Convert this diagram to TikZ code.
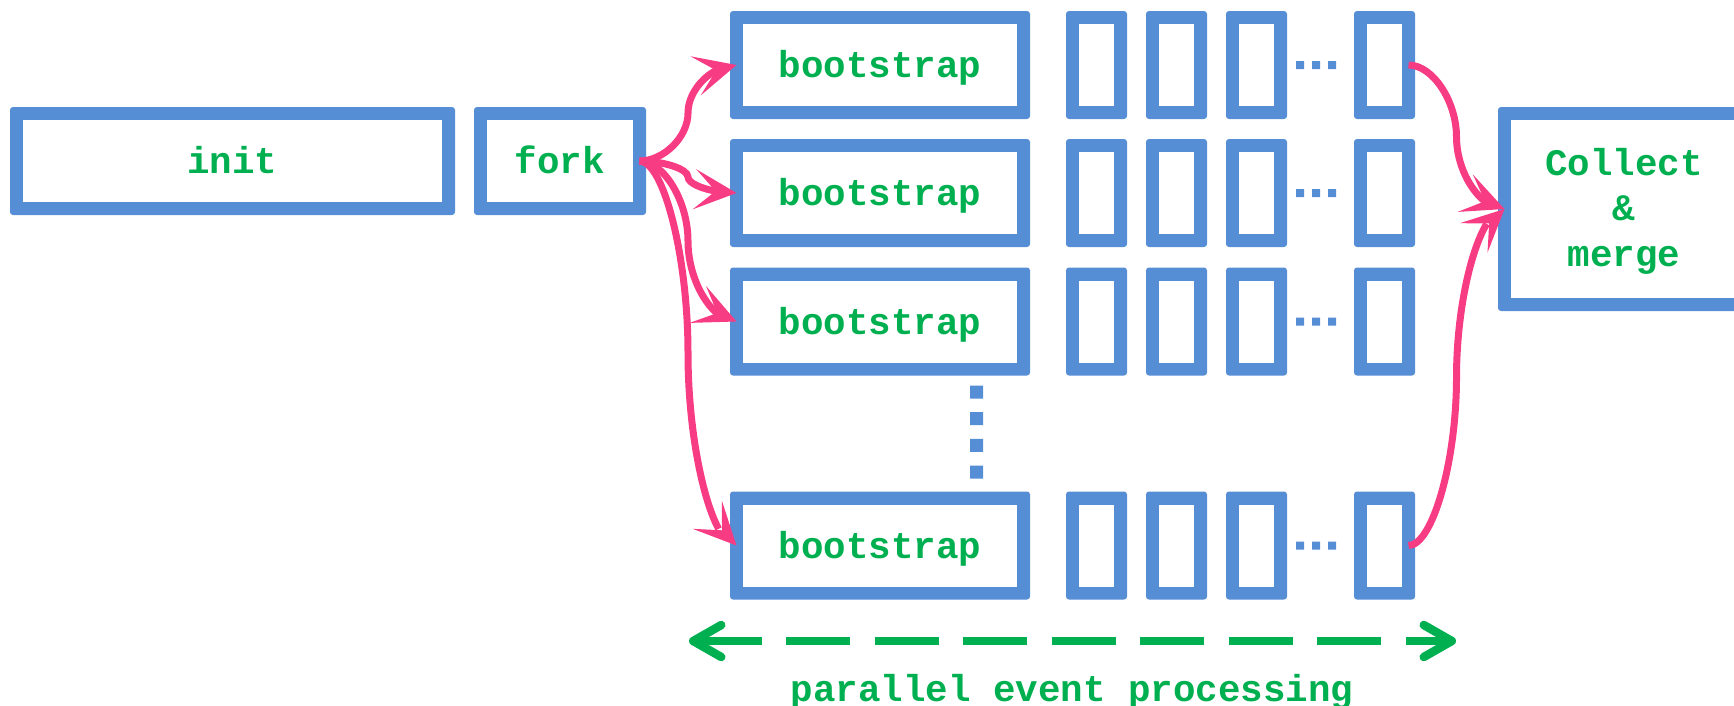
\documentclass[tikz,border=0pt]{standalone}
\usepackage{fontspec}
\setmonofont{Liberation Mono}
\usetikzlibrary{arrows.meta,bending,calc}
\definecolor{boxblue}{RGB}{85,142,213}
\definecolor{txtgreen}{RGB}{0,176,80}
\definecolor{linkpink}{RGB}{248,60,132}
\newcommand{\codefont}{\ttfamily\bfseries\fontsize{37.5}{45.5}\selectfont}

\begin{document}
\begin{tikzpicture}[x=1pt,y=-1pt,
  % thick blue frame: filled outer shape with a white inner panel
  frame/.style={fill=boxblue, rounded corners=3pt, inner sep=0pt, outer sep=-6.5pt,
    path picture={\fill[white,sharp corners]
      ([shift={(13pt,-13pt)}]path picture bounding box.north west) rectangle
      ([shift={(-13pt,13pt)}]path picture bounding box.south east);}},
  codetext/.style={text=txtgreen, font=\codefont, text height=29pt, text depth=4pt},
  % S-shaped curved connector: horizontal at both ends, vertical at the middle
  connector/.style={to path={let \p1=(\tikztostart), \p2=(\tikztotarget) in
    .. controls ({0.75*\x1+0.25*\x2},\y1) and ({0.5*\x1+0.5*\x2},{0.75*\y1+0.25*\y2})
    .. ({0.5*\x1+0.5*\x2},{0.5*\y1+0.5*\y2})
    .. controls ({0.5*\x1+0.5*\x2},{0.25*\y1+0.75*\y2}) and ({0.25*\x1+0.75*\x2},\y2)
    .. (\tikztotarget)}},
  link/.style={draw=linkpink, line width=7pt,
    -{Stealth[length=42pt,width=40pt,inset=21pt,flex]}},
  span/.style={draw=txtgreen, line width=8.5pt, line cap=butt,
    dash pattern=on 64pt off 24.5pt,
    {Straight Barb[length=28pt,width=32pt,round]}-{Straight Barb[length=28pt,width=32pt,round]}}
]
\useasboundingbox (0,0) rectangle (1734,705);

% sequential start-up
\node[frame, codetext, minimum width=445pt, minimum height=108pt] (init) at (232.5,161) {init};
\node[frame, codetext, minimum width=172pt, minimum height=108pt] (fork) at (560,161) {fork};

% worker rows: bootstrap followed by event cells
\foreach \r/\y in {1/65,2/193,3/321.5,4/545.5} {
  \node[frame, codetext, minimum width=300pt, minimum height=108pt] (boot-\r) at (880,\y) {bootstrap};
  \foreach \c/\x in {1/1096.5,2/1176.5,3/1256.5,4/1384.5}
    \node[frame, minimum width=61pt, minimum height=108pt] (cell-\r-\c) at (\x,\y) {};
  \fill[boxblue] foreach \dx in {1300,1316,1332} {(\dx-4,\y-4) rectangle ++(8,8)};
}

% vertical ellipsis between the third and last worker
\fill[boxblue] foreach \k in {0,...,3} {(970,385.5+26.7*\k) rectangle ++(13,13)};

% merge step
\node[frame, text=txtgreen, font=\codefont, align=center,
      minimum width=252pt, minimum height=204pt] (collect) at (1624,209)
  {\rule{0pt}{32pt}Collect\\\&\\merge\rule[-9pt]{0pt}{9pt}};

% fork to workers
\foreach \r in {1,...,4}
  \draw[link] (fork.east) to[connector] (boot-\r.west);

% workers to merge
\draw[link] (cell-1-4.east) to[connector] (collect.west);
\draw[link] (cell-4-4.east) to[connector] (collect.west);

% span of the parallel section
\coordinate (span-l) at (689,641);
\coordinate (span-r) at (1456,641);
\draw[span] (span-l) -- (span-r);
\node[text=txtgreen, font=\codefont, anchor=base] (caption) at (1072,701) {parallel event processing};
\end{tikzpicture}
\end{document}
